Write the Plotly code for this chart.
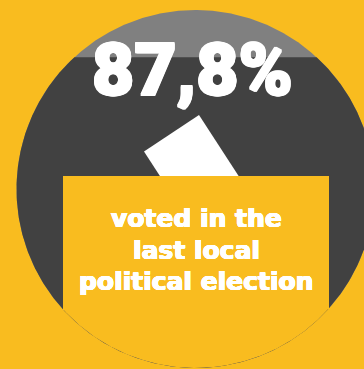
import numpy as np
import plotly.graph_objects as go

# Headline share and caption
share_label = "87,8%"
share_value = 87.8
caption_lines = ["voted in the", "last local", "political election"]

YELLOW = "#F9BC1F"
DARK = "#414141"
GREY = "#808080"
WHITE = "#FFFFFF"

# Disc geometry in page pixels
cx, cy, r = 195.5, 189.0, 179.0
bottom = cy + r
px_per_pct = 3.54
level_y = bottom - share_value * px_per_pct

theta = np.linspace(0, 2 * np.pi, 721)
disc_x = cx + r * np.cos(theta)
disc_y = cy + r * np.sin(theta)

# Lower part of the disc, below the fill level
half = np.sqrt(r**2 - (level_y - cy) ** 2)
a0 = np.arctan2(level_y - cy, half)
a1 = np.pi - a0
seg = np.linspace(a0, a1, 721)
fill_x = cx + r * np.cos(seg)
fill_y = cy + r * np.sin(seg)

# Ballot box front, cut by the disc outline
box_left, box_right, box_top = 63.0, 329.0, 176.0
ang_l = np.arccos((box_left - cx) / r)
ang_r = np.arccos((box_right - cx) / r)
box_arc = np.linspace(ang_r, ang_l, 361)
box_x = np.r_[box_left, box_right, cx + r * np.cos(box_arc)]
box_y = np.r_[box_top, box_top, cy + r * np.sin(box_arc)]

# Ballot paper dropping into the box
ballot_x = [144, 199, 262, 207]
ballot_y = [151.5, 115, 212, 248.5]


def poly(x, y, color):
    return go.Scatter(
        x=list(x), y=list(y), mode="lines", fill="toself", fillcolor=color,
        line=dict(width=0), hoverinfo="skip", showlegend=False,
    )


def outline(px):
    # Thickens the glyphs beyond the heaviest installed weight
    return ",".join(
        f"{dx}px {dy}px 0 {WHITE}"
        for dx, dy in [(px, 0), (-px, 0), (0, px), (0, -px), (px, px), (-px, -px), (px, -px), (-px, px)]
    )


fig = go.Figure([
    poly(disc_x, disc_y, GREY),
    poly(fill_x, fill_y, DARK),
    poly(ballot_x, ballot_y, WHITE),
    poly(box_x, box_y, YELLOW),
])

fig.add_annotation(
    x=192.5, y=70, text=share_label, showarrow=False,
    font=dict(family="Roboto", size=73, color=WHITE, weight=900, shadow=outline(1.0)),
    xanchor="center", yanchor="middle",
)
for line, ypos in zip(caption_lines, [218.5, 250, 281.5]):
    fig.add_annotation(
        x=196.5, y=ypos, text=line, showarrow=False,
        font=dict(family="DejaVu Sans", size=25, color=WHITE, weight=700, shadow=outline(0.4)),
        xanchor="center", yanchor="middle",
    )

fig.update_layout(
    width=364, height=369, margin=dict(l=0, r=0, t=0, b=0),
    paper_bgcolor=YELLOW, plot_bgcolor=YELLOW,
    xaxis=dict(range=[0, 364], visible=False, fixedrange=True),
    yaxis=dict(range=[369, 0], visible=False, fixedrange=True),
)
fig.write_html("out.html", config={"displayModeBar": False})
